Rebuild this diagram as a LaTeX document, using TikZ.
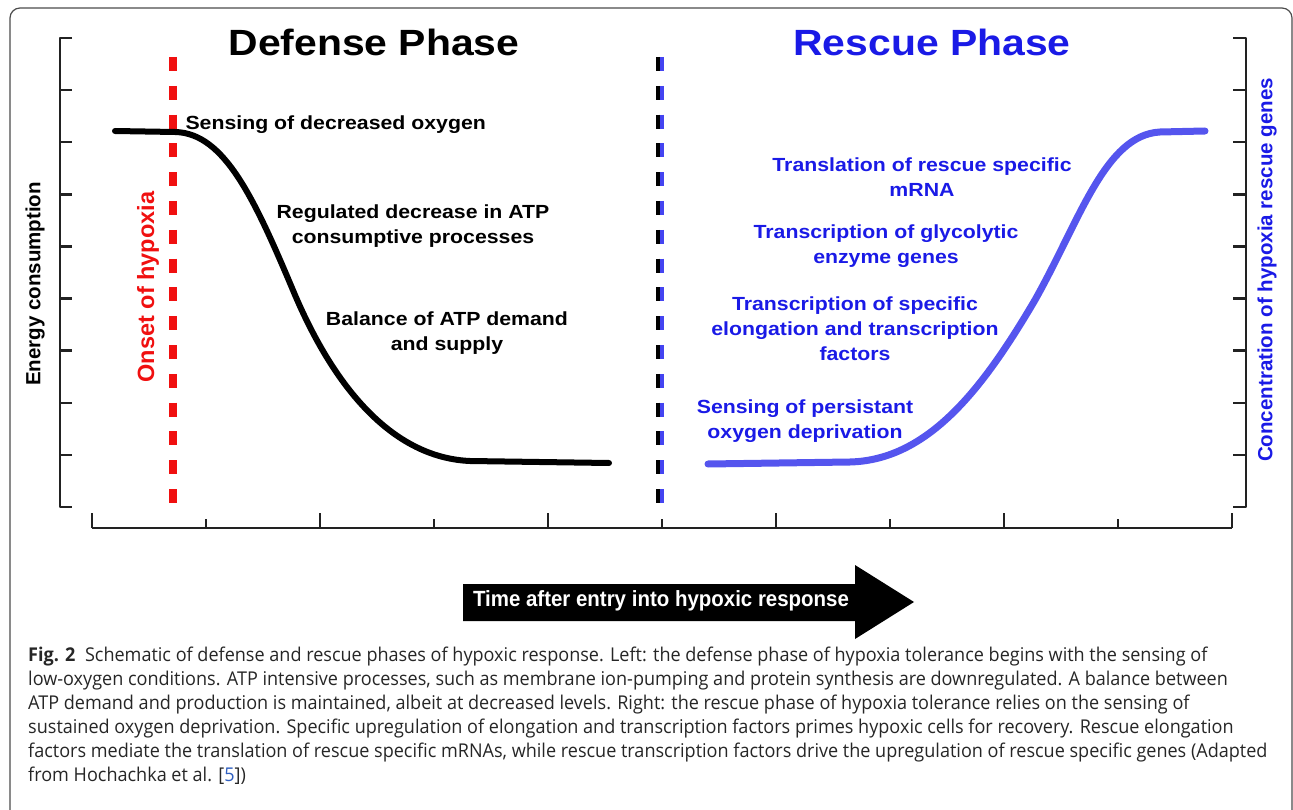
\documentclass[tikz,border=0pt]{standalone}
\usepackage{fontspec}
\setmainfont{Liberation Sans}
\newfontfamily\figfont[FakeStretch=1.12]{Liberation Sans}
\newfontfamily\arrowfont[FakeStretch=0.93]{Liberation Sans}
\newfontfamily\capfont[FakeStretch=0.95]{Open Sans}
\usetikzlibrary{positioning}
\definecolor{onsetRed}{HTML}{F01010}
\definecolor{rescueBlue}{HTML}{1A1AE6}
\definecolor{curveBlue}{HTML}{5555EE}
\definecolor{axisInk}{HTML}{222222}
\definecolor{refBlue}{HTML}{2F5FC0}

\begin{document}
\begin{tikzpicture}[x=1pt, y=-1pt, line join=round,
  labeltext/.style={align=center, font=\figfont\fontsize{19}{25}\selectfont\bfseries},
  axislabel/.style={rotate=90, font=\fontsize{20.5}{22}\selectfont\bfseries}]
  \useasboundingbox (0,0) rectangle (1293,810);
  % frame round the figure, open at the bottom
  \draw[gray!60!black, line width=1.2pt, rounded corners=10pt]
    (10,814) -- (10,8) -- (1292,8) -- (1292,814);
  % y axes: energy on the left, gene concentration on the right
  \draw[axisInk, line width=2.5pt] (72,38) -- (60,38) -- (60,507) -- (72,507);
  \draw[axisInk, line width=2.5pt] (1233,38) -- (1246,38) -- (1246,507) -- (1233,507);
  \foreach \j in {1,...,8}{
    \pgfmathsetmacro{\yy}{38+\j*52.11}
    \draw[axisInk, line width=2.5pt] (60,\yy) -- (72,\yy);
    \draw[axisInk, line width=2.5pt] (1233,\yy) -- (1246,\yy);
  }
  % time axis, long and short ticks in turn
  \draw[axisInk, line width=2.5pt] (92,528) -- (1232,528);
  \foreach \i in {0,...,10}{
    \pgfmathsetmacro{\xx}{92+\i*114}
    \pgfmathsetmacro{\yt}{isodd(\i) ? 519 : 513}
    \draw[axisInk, line width=2.5pt] (\xx,528) -- (\xx,\yt);
  }
  % onset line and the border between the two phases
  \draw[onsetRed, line width=8pt, dash pattern=on 14pt off 14.8pt] (173,57) -- (173,505);
  \draw[black, line width=4pt, dash pattern=on 14pt off 14.8pt] (658,57) -- (658,505);
  \draw[curveBlue!80!blue, line width=4pt, dash pattern=on 14pt off 14.8pt] (662,57) -- (662,505);
  % energy consumption falls
  \draw[black, line width=6pt, line cap=round]
    (115,131) -- (175,132) .. controls (225,133) and (255,200) .. (295,295)
    .. controls (340,400) and (400,458) .. (470,461) -- (609,463);
  % rescue genes rise
  \draw[curveBlue, line width=7pt, line cap=round]
    (708,464) -- (850,462) .. controls (930,460) and (985,385) .. (1035,300)
    .. controls (1080,220) and (1105,135) .. (1160,132) -- (1205,131);
  % titles
  \node[font=\figfont\fontsize{36.5}{40}\selectfont\bfseries] (defense) at (374,42) {Defense Phase};
  \node[rescueBlue, font=\figfont\fontsize{36.5}{40}\selectfont\bfseries] (rescue) at (932,42) {Rescue Phase};
  % axis labels
  \node[axislabel] (energy) at (35,284) {Energy consumption};
  \node[axislabel, onsetRed, font=\fontsize{23.5}{25}\selectfont\bfseries] (onset) at (148,287) {Onset of hypoxia};
  \node[axislabel, rescueBlue] (conc) at (1267,270) {Concentration of hypoxia rescue genes};
  % defense steps
  \node[labeltext, anchor=west] (sensing) at (182,125) {Sensing of decreased oxygen};
  \node[labeltext] (regulated) at (413,226) {Regulated decrease in ATP\\consumptive processes};
  \node[labeltext] (balance) at (447,333) {Balance of ATP demand\\and supply};
  % rescue steps
  \node[labeltext, rescueBlue] (translation) at (922,177) {Translation of rescue specific\\mRNA};
  \node[labeltext, rescueBlue] (glycolytic) at (886,246) {Transcription of glycolytic\\enzyme genes};
  \node[labeltext, rescueBlue] (factors) at (855,329) {Transcription of specific\\elongation and transcription\\factors};
  \node[labeltext, rescueBlue] (persistant) at (805,421) {Sensing of persistant\\oxygen deprivation};
  % time arrow
  \fill[black] (463,584) -- (855,584) -- (855,565) -- (914,602) -- (855,639) -- (855,621) -- (463,621) -- cycle;
  \node[white, font=\arrowfont\fontsize{22}{24}\selectfont\bfseries] (timearrow) at (661,601) {Time after entry into hypoxic response};
  % caption
  \node[anchor=north west, align=left, inner sep=0pt, text=black!85,
        font=\capfont\fontsize{19}{24}\selectfont] (caption) at (28,647) {%
    {\bfseries Fig. 2}\enspace Schematic of defense and rescue phases of hypoxic response. Left: the defense phase of hypoxia tolerance begins with the sensing of\\
    low-oxygen conditions. ATP intensive processes, such as membrane ion-pumping and protein synthesis are downregulated. A balance between\\
    ATP demand and production is maintained, albeit at decreased levels. Right: the rescue phase of hypoxia tolerance relies on the sensing of\\
    sustained oxygen deprivation. Specific upregulation of elongation and transcription factors primes hypoxic cells for recovery. Rescue elongation\\
    factors mediate the translation of rescue specific mRNAs, while rescue transcription factors drive the upregulation of rescue specific genes (Adapted\\
    from Hochachka et al. [{\color{refBlue}5}])};
\end{tikzpicture}
\end{document}
